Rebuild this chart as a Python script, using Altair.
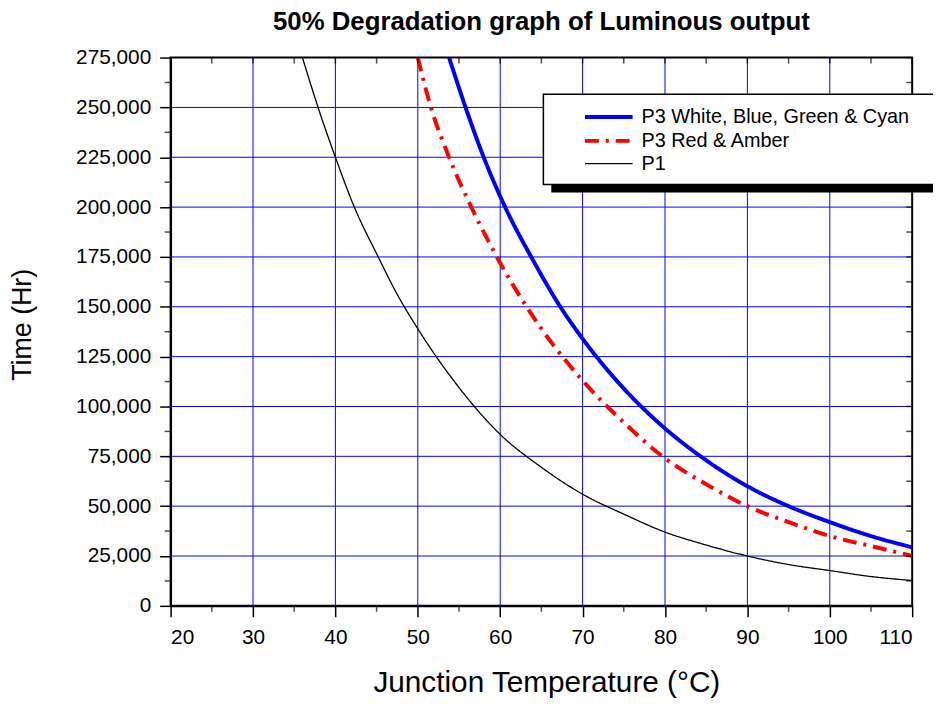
import altair as alt
import pandas as pd

# ---- data ----
series_names = ["P3 White, Blue, Green & Cyan", "P3 Red & Amber", "P1"]

blue_temp = [53.8, 55.8, 58.0, 60.6, 63.9, 67.3, 70, 75, 80, 85, 90, 95, 100, 105, 110]
blue_time = [275000, 250000, 225000, 200000, 174000, 150000, 134000, 109000, 89000, 73000, 60000, 50000, 42000, 35000, 29300]

red_temp = [50.0, 51.6, 53.8, 56.5, 59.6, 63.2, 65, 70, 75, 80, 85, 90, 95, 100, 105, 110]
red_time = [275000, 250000, 225000, 200000, 175000, 150000, 139000, 113000, 92000, 74000, 61000, 50000, 42000, 35000, 30000, 25000]

black_temp = [36.0, 37.9, 40, 42.3, 45.2, 47.4, 50, 55, 60, 65, 70, 75, 80, 85, 90, 95, 100, 105, 110]
black_time = [275000, 250000, 225000, 200000, 175000, 157000, 139000, 109500, 86000, 69500, 56000, 46000, 37000, 30500, 25000, 20700, 17700, 14700, 12700]

x_major = [20, 30, 40, 50, 60, 70, 80, 90, 100, 110]
x_minor = [25, 35, 45, 55, 65, 75, 85, 95, 105]
y_major = list(range(0, 275001, 25000))
y_minor = list(range(12500, 275000, 25000))

rows = []
for name, ts, vs in [(series_names[0], blue_temp, blue_time),
                     (series_names[1], red_temp, red_time),
                     (series_names[2], black_temp, black_time)]:
    for t, v in zip(ts, vs):
        rows.append({"series": name, "temp": t, "time": v})
df = pd.DataFrame(rows)

xs = alt.Scale(domain=[20, 110], nice=False, zero=False)
ys = alt.Scale(domain=[0, 275000], nice=False)

FONT = "Liberation Sans"

lines = alt.Chart(df).mark_line(interpolate="monotone", clip=True).encode(
    x=alt.X("temp:Q", scale=xs,
            axis=alt.Axis(values=x_major, title="Junction Temperature (°C)", grid=False,
                          titleX=379, titleY=86, titleBaseline="alphabetic",
                          titleFontSize=30, labelPadding=10)),
    y=alt.Y("time:Q", scale=ys,
            axis=alt.Axis(values=y_major, format=",d", title="Time (Hr)", grid=False,
                          titleX=-149, titleY=269, titleAngle=-90,
                          titleAlign="center", titleBaseline="middle",
                          titleFontSize=27, labelPadding=9)),
    color=alt.Color("series:N", title=None,
                    scale=alt.Scale(domain=series_names, range=["#0000FF", "#FF0000", "#000000"])),
    strokeDash=alt.StrokeDash("series:N", title=None,
                              scale=alt.Scale(domain=series_names, range=[[1, 0], [14, 7, 3, 7], [1, 0]])),
    strokeWidth=alt.StrokeWidth("series:N", title=None,
                                scale=alt.Scale(type="ordinal", domain=series_names, range=[4, 4, 1.3])),
)

xmaj = pd.DataFrame({"v": x_major})
xmin = pd.DataFrame({"v": x_minor})
ymaj = pd.DataFrame({"v": y_major})
ymin = pd.DataFrame({"v": y_minor})
xgrid = pd.DataFrame({"v": x_major[1:-1]})
ygrid = pd.DataFrame({"v": y_major[1:-1]})

grid_x = alt.Chart(xgrid).mark_rule(color="#0000FF", strokeWidth=1).encode(
    x=alt.X("v:Q", scale=xs))
grid_y = alt.Chart(ygrid).mark_rule(color="#0000FF", strokeWidth=1).encode(
    y=alt.Y("v:Q", scale=ys))

def xticks(d, size, at, off):
    return alt.Chart(d).mark_tick(orient="vertical", size=size, thickness=1.5,
                                  color="black", yOffset=off).encode(
        x=alt.X("v:Q", scale=xs), y=alt.datum(at, scale=ys))

def yticks(d, size, at, off):
    return alt.Chart(d).mark_tick(orient="horizontal", size=size, thickness=1.5,
                                  color="black", xOffset=off).encode(
        y=alt.Y("v:Q", scale=ys), x=alt.datum(at, scale=xs))

ticks = [
    xticks(xmin, 6, 0, 3),                                   # bottom minor, outward
    yticks(ymin, 6, 20, -3),                                 # left minor, outward
    xticks(xmaj, 6, 275000, 3), xticks(xmin, 6, 275000, 3),  # top, inward
    yticks(ymaj, 6, 110, -3), yticks(ymin, 6, 110, -3),      # right, inward
]

one = pd.DataFrame({"a": [0]})
shadow = alt.Chart(one).mark_rect(color="black").encode(
    x=alt.value(384), x2=alt.value(800), y=alt.value(45), y2=alt.value(136))
box = alt.Chart(one).mark_rect(fill="white", stroke="black", strokeWidth=1.5).encode(
    x=alt.value(376), x2=alt.value(792), y=alt.value(37), y2=alt.value(128))

chart = alt.layer(grid_x, grid_y, lines, *ticks, shadow, box).properties(
    width=748, height=553,
    autosize=alt.AutoSizeParams(type="none"),
    padding={"left": 164, "top": 47, "right": 21, "bottom": 96},
    title=alt.Title("50% Degradation graph of Luminous output", font=FONT,
                    fontSize=26, fontWeight="bold", anchor="middle", offset=12, color="black"),
).configure_view(stroke="black", strokeWidth=2).configure_axis(
    labelFont=FONT, labelFontSize=21, labelColor="black", titleFont=FONT,
    titleFontWeight="normal", titleColor="black",
    tickColor="black", tickSize=11, tickWidth=1.5,
    domainColor="black", domainWidth=2,
).configure_legend(
    orient="none", legendX=430, legendY=48,
    symbolType="M-2.4,0H2.4", symbolSize=400, labelFont=FONT, labelFontSize=20,
    labelColor="black", labelOffset=21, rowPadding=2, padding=0, labelLimit=400,
)

chart.save("out.html", embed_options={"renderer": "svg", "actions": False})
